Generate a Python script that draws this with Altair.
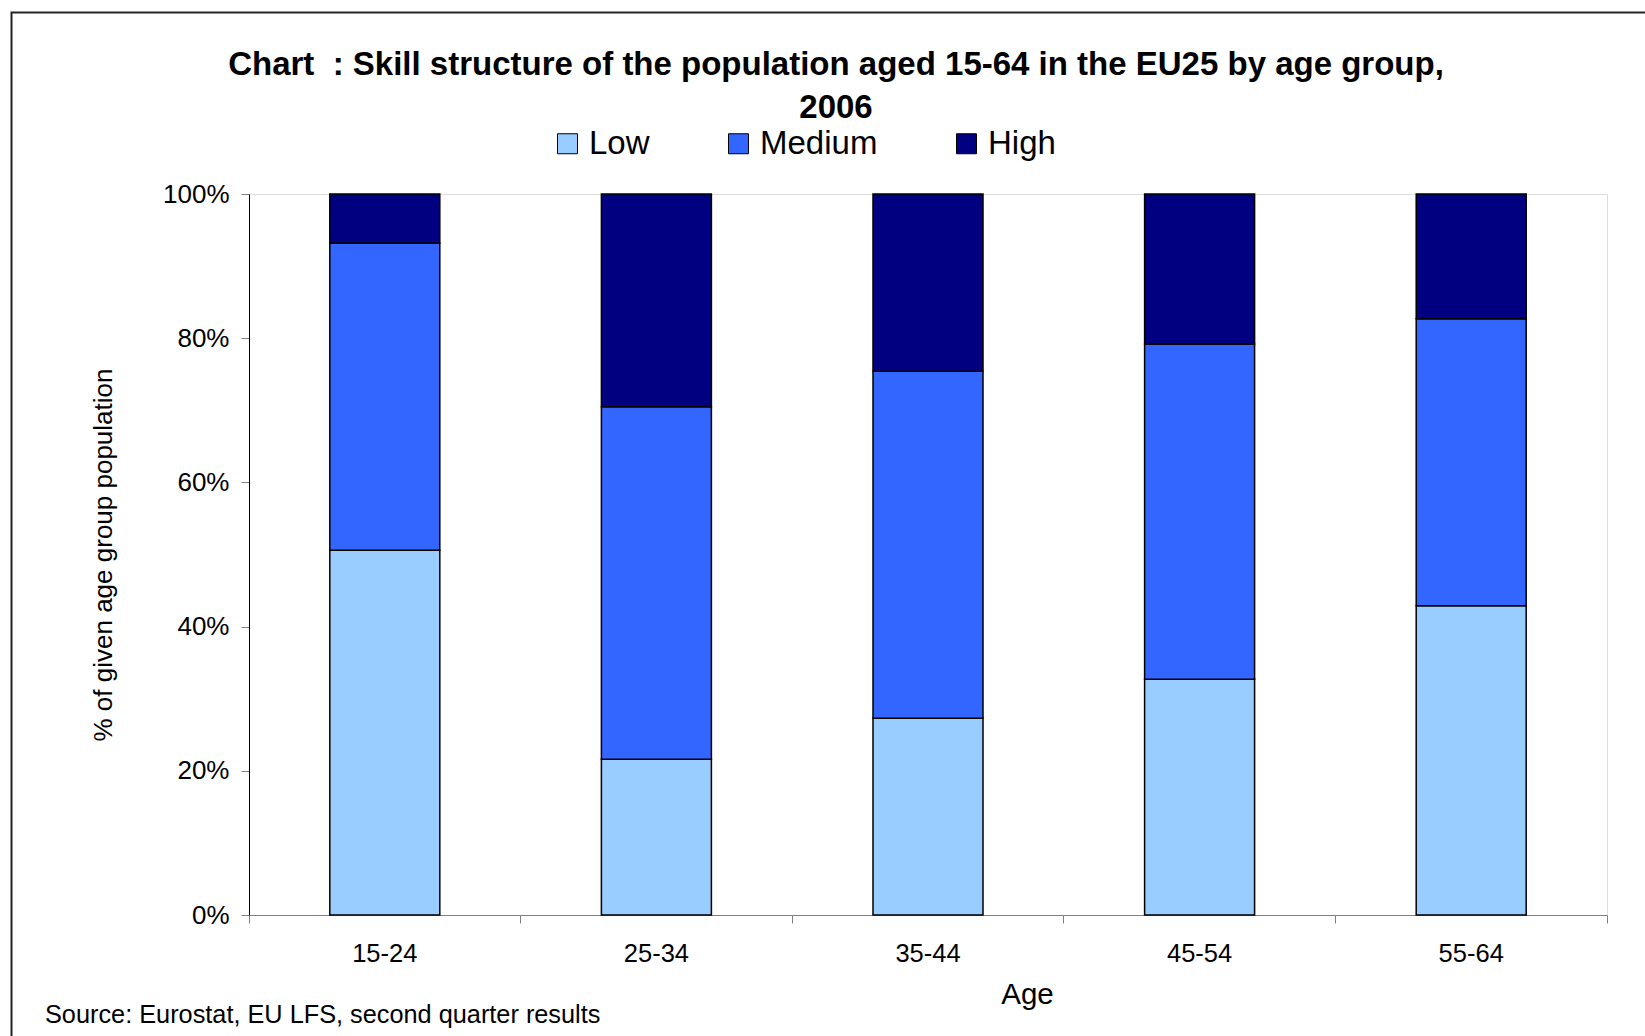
import altair as alt
import pandas as pd

ages = ["15-24", "25-34", "35-44", "45-54", "55-64"]
levels = ["Low", "Medium", "High"]
low = [50.6, 21.6, 27.3, 32.7, 42.9]
medium = [42.6, 48.9, 48.1, 46.5, 39.8]
high = [6.8, 29.5, 24.6, 20.8, 17.3]
colors = ["#99CCFF", "#3366FF", "#000080"]
y_ticks = [0, 20, 40, 60, 80, 100]

title_lines = ["Chart\u00a0 : Skill structure of the population aged 15-64 in the EU25 by age group,", "2006"]
y_title = "% of given age group population"
x_title = "Age"
source_text = "Source: Eurostat, EU LFS, second quarter results"

rows = []
for i, a in enumerate(ages):
    for k, (lvl, vals) in enumerate(zip(levels, [low, medium, high])):
        rows.append({"age": a, "level": lvl, "value": vals[i], "rank": k})
df = pd.DataFrame(rows)

W, H = 1358, 721
FONT = "Liberation Sans"

bars = alt.Chart(df).mark_bar(
    width=alt.RelativeBandSize(0.405), stroke="black", strokeWidth=1.5
).encode(
    x=alt.X("age:N", sort=ages, title=x_title,
            scale=alt.Scale(paddingInner=0, paddingOuter=0),
            axis=alt.Axis(labelAngle=0, bandPosition=1, tickExtra=True,
                          tickSize=8, tickColor="#808080",
                          domainColor="#808080", labelFontSize=25.5, labelFont=FONT,
                          labelColor="black", labelPadding=18,
                          titleFontSize=29.5, titleFont=FONT, titleFontWeight="normal",
                          titleColor="black", titleX=778, titleY=79,
                          titleBaseline="middle", titleAlign="center")),
    y=alt.Y("value:Q", stack="zero", title=y_title,
            scale=alt.Scale(domain=[0, 100], nice=False),
            axis=alt.Axis(values=y_ticks, labelExpr="datum.value + '%'", grid=False,
                          tickSize=8, tickColor="#808080", domainColor="black",
                          labelFontSize=26, labelFont=FONT, labelColor="black",
                          labelPadding=12, titleFontSize=26, titleFont=FONT,
                          titleFontWeight="normal", titleColor="black",
                          titleAngle=-90, titleX=-146, titleY=H / 2,
                          titleBaseline="middle", titleAlign="center")),
    color=alt.Color("level:N", scale=alt.Scale(domain=levels, range=colors),
                    legend=alt.Legend(orient="none", legendX=302, legendY=-67,
                                      direction="horizontal", title=None,
                                      symbolType="square", symbolSize=400,
                                      symbolStrokeColor="black", symbolStrokeWidth=1,
                                      labelFontSize=33, labelFont=FONT, labelColor="black",
                                      labelOffset=5, columnPadding=72)),
    order=alt.Order("rank:Q", sort="ascending"),
)

one = pd.DataFrame({"t": [source_text]})
source = alt.Chart(one).mark_text(
    align="left", baseline="middle", fontSize=25.3, font=FONT, color="black"
).encode(text="t:N", x=alt.value(45 - 249), y=alt.value(1015 - 194))

frame = alt.Chart(one).mark_rect(
    fill=None, stroke="#222222", strokeWidth=2
).encode(x=alt.value(11.5 - 249), y=alt.value(12.5 - 194),
         x2=alt.value(3000), y2=alt.value(3000))

chart = alt.layer(frame, bars, source).properties(
    width=W, height=H,
    title=alt.TitleParams(text=title_lines, fontSize=33, font=FONT, fontWeight="bold",
                          color="black", anchor="middle", lineHeight=43, dx=-92, dy=117),
    autosize=alt.AutoSizeParams(type="none"),
    padding={"left": 249, "top": 194, "right": 38, "bottom": 121},
).configure_view(stroke=None).configure(background="white")

chart.save("out.html", embed_options={"renderer": "svg", "actions": False})
